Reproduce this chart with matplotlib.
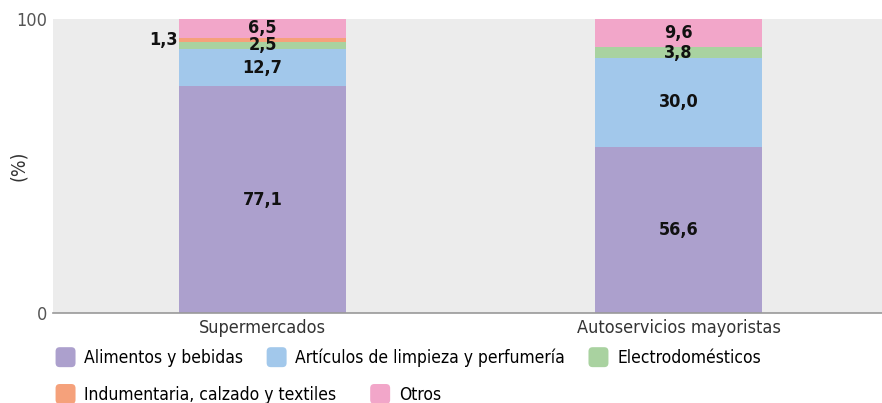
import numpy as np
import matplotlib.pyplot as plt
from matplotlib.patches import Patch, FancyBboxPatch
from matplotlib.legend_handler import HandlerPatch

plt.rcParams['font.family'] = ['DejaVu Sans']
plt.rcParams['font.stretch'] = 'condensed'

canales = ['Supermercados', 'Autoservicios mayoristas']
categorias = ['Alimentos y bebidas', 'Artículos de limpieza y perfumería',
              'Electrodomésticos', 'Indumentaria, calzado y textiles', 'Otros']
alimentos = [77.1, 56.6]
limpieza = [12.7, 30.0]
electro = [2.5, 3.8]
indumentaria = [1.3, 0.0]
otros = [6.5, 9.6]
colores = ['#aca0cd', '#a2c8eb', '#a9d2a0', '#f5a17b', '#f2a6c9']

series = [alimentos, limpieza, electro, indumentaria, otros]


def cuadrado_redondeado(legend, orig_handle, xdescent, ydescent, width, height, fontsize):
    # cuadradito con esquinas redondeadas para la leyenda
    lado = width
    return FancyBboxPatch((-xdescent, -ydescent + (height - lado) / 2), lado, lado,
                          boxstyle='round,pad=0,rounding_size=3')


fig = plt.figure(figsize=(8.82, 4.03), dpi=100)
ax = fig.add_axes([0.060, 0.2233, 0.940, 0.7296])
ax.set_facecolor('#ececec')

x = np.arange(len(canales))
base = np.zeros(len(canales))
for s, col in zip(series, colores):
    s = np.array(s)
    ax.bar(x, s, width=0.40, bottom=base, color=col, linewidth=0, zorder=2)
    for i in range(len(x)):
        if s[i] <= 0:
            continue
        txt = f'{s[i]:.1f}'.replace('.', ',')
        if s[i] < 2:
            # etiqueta chica a la izquierda de la barra
            ax.text(x[i] - 0.205, base[i] + s[i] / 2, txt, ha='right', va='center',
                    fontsize=13, fontweight='bold', color='#111111')
        else:
            ax.text(x[i], base[i] + s[i] / 2, txt, ha='center', va='center',
                    fontsize=13, fontweight='bold', color='#111111', zorder=3)
    base += s

ax.set_xlim(-0.504, 1.489)
ax.set_ylim(0, 100)
ax.set_yticks([0, 100])
ax.set_yticklabels(['0', '100'], fontsize=13, color='#555555')
ax.set_xticks(x)
ax.set_xticklabels(canales, fontsize=13, color='#333333')
ax.tick_params(length=0, pad=4)
for side in ['top', 'right', 'left']:
    ax.spines[side].set_visible(False)
ax.spines['bottom'].set_color('#999999')
ax.spines['bottom'].set_linewidth(1.2)
ax.set_ylabel('(%)', fontsize=14, color='#333333')
ax.yaxis.set_label_coords(-0.030, 0.5)

# leyenda en dos filas (flujo, no columnas)
h = [Patch(facecolor=c, edgecolor='none') for c in colores]
hm = {Patch: HandlerPatch(patch_func=cuadrado_redondeado)}
fig.legend(h[:3], categorias[:3], loc='center left', bbox_to_anchor=(0.063, 0.112),
           ncol=3, frameon=False, fontsize=12.5, handlelength=1.15, handleheight=1.0,
           handletextpad=0.5, columnspacing=1.35, borderaxespad=0, borderpad=0,
           handler_map=hm)
fig.legend(h[3:], categorias[3:], loc='center left', bbox_to_anchor=(0.063, 0.02),
           ncol=2, frameon=False, fontsize=12.5, handlelength=1.15, handleheight=1.0,
           handletextpad=0.5, columnspacing=1.95, borderaxespad=0, borderpad=0,
           handler_map=hm)

fig.savefig('out.png', dpi=100)
